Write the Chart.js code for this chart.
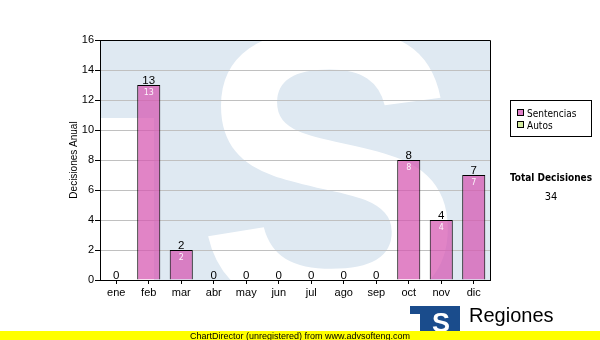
<!DOCTYPE html>
<html>
<head>
<meta charset="utf-8">
<script src="https://cdn.jsdelivr.net/npm/chart.js@4.4.1/dist/chart.umd.min.js"></script>
<style>
  html, body { margin: 0; padding: 0; background: #ffffff; }
  #wrap { width: 600px; height: 340px; position: relative; }
</style>
</head>
<body>
<div id="wrap"><canvas id="c" width="600" height="340"></canvas></div>
<script>
const categories = ['ene', 'feb', 'mar', 'abr', 'may', 'jun', 'jul', 'ago', 'sep', 'oct', 'nov', 'dic'];
const sentencias = [0, 13, 2, 0, 0, 0, 0, 0, 0, 8, 4, 7];
const autos = [0, 0, 0, 0, 0, 0, 0, 0, 0, 0, 0, 0];
const yMin = 0;
const yMax = 16;
const yStep = 2;
const seriesNames = ['Sentencias', 'Autos'];
const totalLabel = 'Total Decisiones';
const totalValue = sentencias.reduce((a, b) => a + b, 0) + autos.reduce((a, b) => a + b, 0);
const yTitle = 'Decisiones Anual';
const bannerText = 'ChartDirector (unregistered) from www.advsofteng.com';
const logoText = 'Regiones';

const pinkFill = 'rgba(214, 84, 176, 0.72)';
const pinkLegend = '#e080c8';
const greenLegend = '#d4eca0';

const decorPlugin = {
  id: 'decor',
  beforeDraw(chart) {
    const ctx = chart.ctx;
    const a = chart.chartArea;
    ctx.save();
    ctx.fillStyle = '#ffffff';
    ctx.fillRect(0, 0, chart.width, chart.height);
    // watermark in plot area
    ctx.beginPath();
    ctx.rect(a.left, a.top, a.right - a.left, a.bottom - a.top);
    ctx.clip();
    ctx.fillStyle = '#dfe9f2';
    ctx.fillRect(a.left, a.top, a.right - a.left, a.bottom - a.top);
    ctx.fillStyle = '#ffffff';
    ctx.fillRect(a.left, 118, 54, a.bottom - 118);
    ctx.font = 'bold 400px "Liberation Sans"';
    ctx.textAlign = 'center';
    ctx.textBaseline = 'alphabetic';
    ctx.fillText('S', 330, 308);
    ctx.restore();
  },
  afterDraw(chart) {
    const ctx = chart.ctx;
    const a = chart.chartArea;
    const xs = chart.scales.x;
    const ys = chart.scales.y;
    ctx.save();
    // frame top/right
    ctx.strokeStyle = '#000000';
    ctx.lineWidth = 1;
    ctx.beginPath();
    ctx.moveTo(a.left, a.top + 0.5);
    ctx.lineTo(a.right + 0.5, a.top + 0.5);
    ctx.lineTo(a.right + 0.5, a.bottom);
    ctx.stroke();

    // value labels
    for (let i = 0; i < categories.length; i++) {
      const x = xs.getPixelForValue(i);
      const tot = sentencias[i] + autos[i];
      const yTop = ys.getPixelForValue(tot);
      ctx.fillStyle = '#000000';
      ctx.font = '11.5px "Liberation Sans"';
      ctx.textAlign = 'center';
      ctx.textBaseline = 'alphabetic';
      ctx.fillText(String(tot), x, yTop - 1.5);
      if (sentencias[i] > 0) {
        ctx.fillStyle = 'rgba(255,255,255,0.9)';
        ctx.font = '8px "DejaVu Sans"';
        ctx.textBaseline = 'top';
        ctx.fillText(String(sentencias[i]), x, ys.getPixelForValue(sentencias[i]) + 3.5);
      }
    }

    // y title
    ctx.save();
    ctx.translate(77, (a.top + a.bottom) / 2);
    ctx.rotate(-Math.PI / 2);
    ctx.fillStyle = '#000000';
    ctx.font = '10px "Liberation Sans"';
    ctx.textAlign = 'center';
    ctx.textBaseline = 'alphabetic';
    ctx.fillText(yTitle, 0, 0);
    ctx.restore();

    // legend
    ctx.fillStyle = '#ffffff';
    ctx.fillRect(510.5, 100.5, 81, 36);
    ctx.strokeStyle = '#000000';
    ctx.strokeRect(510.5, 100.5, 81, 36);
    const legendColors = [pinkLegend, greenLegend];
    ctx.font = '10px "DejaVu Sans Condensed", "DejaVu Sans"';
    ctx.textAlign = 'left';
    ctx.textBaseline = 'alphabetic';
    for (let k = 0; k < seriesNames.length; k++) {
      const yy = 109.5 + k * 12;
      ctx.fillStyle = legendColors[k];
      ctx.fillRect(517.5, yy, 6, 6);
      ctx.strokeStyle = '#000000';
      ctx.strokeRect(517.5, yy, 6, 6);
      ctx.fillStyle = '#000000';
      ctx.fillText(seriesNames[k], 527, 117 + k * 12);
    }

    // total
    ctx.textAlign = 'center';
    ctx.font = 'bold 10px "DejaVu Sans Condensed", "DejaVu Sans"';
    ctx.fillStyle = '#000000';
    ctx.fillText(totalLabel, 551, 181);
    ctx.font = '11px "DejaVu Sans Condensed", "DejaVu Sans"';
    ctx.fillText(String(totalValue), 551, 199.5);

    // logo
    ctx.fillStyle = '#1a4c8c';
    ctx.fillRect(410, 306, 50, 26);
    ctx.fillStyle = '#ffffff';
    ctx.fillRect(410, 314, 10, 18);
    ctx.font = 'bold 27px "Liberation Sans"';
    ctx.textAlign = 'center';
    ctx.fillText('S', 441, 332);
    ctx.fillStyle = '#000000';
    ctx.font = '20px "Liberation Sans"';
    ctx.textAlign = 'left';
    ctx.fillText(logoText, 469, 322);

    // banner
    ctx.fillStyle = '#ffff00';
    ctx.fillRect(0, 331, chart.width, 9);
    ctx.fillStyle = '#000000';
    ctx.font = '9px "Liberation Sans"';
    ctx.textAlign = 'center';
    ctx.textBaseline = 'alphabetic';
    ctx.fillText(bannerText, 300, 339);
    ctx.restore();
  }
};

new Chart(document.getElementById('c'), {
  type: 'bar',
  data: {
    labels: categories,
    datasets: [
      {
        label: seriesNames[0],
        data: sentencias,
        backgroundColor: pinkFill,
        borderColor: '#000000',
        borderWidth: (c) => (c.raw > 0 ? 1 : 0),
        borderSkipped: 'start',
        barPercentage: 0.71,
        categoryPercentage: 1.0
      },
      {
        label: seriesNames[1],
        data: autos,
        backgroundColor: greenLegend,
        borderColor: '#000000',
        borderWidth: (c) => (c.raw > 0 ? 1 : 0),
        barPercentage: 0.71,
        categoryPercentage: 1.0
      }
    ]
  },
  options: {
    responsive: false,
    animation: false,
    devicePixelRatio: 1,
    layout: { padding: { top: 40, right: 110, left: 0, bottom: 0 } },
    plugins: {
      legend: { display: false },
      tooltip: { enabled: false },
      title: { display: false }
    },
    scales: {
      x: {
        stacked: true,
        afterFit: (s) => { s.height = 60; },
        grid: {
          display: true,
          drawOnChartArea: false,
          drawTicks: true,
          tickLength: 4,
          tickColor: '#000000',
          offset: false
        },
        border: { display: true, color: '#000000', width: 1 },
        ticks: {
          color: '#000000',
          font: { family: 'Liberation Sans', size: 11 },
          padding: 2,
          maxRotation: 0,
          autoSkip: false
        }
      },
      y: {
        stacked: true,
        min: yMin,
        max: yMax,
        afterFit: (s) => { s.width = 100; },
        grid: {
          color: '#c0c0c0',
          lineWidth: 1,
          drawTicks: true,
          tickLength: 5,
          tickColor: '#000000'
        },
        border: { display: true, color: '#000000', width: 1 },
        ticks: {
          stepSize: yStep,
          color: '#000000',
          font: { family: 'Liberation Sans', size: 11 },
          padding: 1
        }
      }
    }
  },
  plugins: [decorPlugin]
});
</script>
</body>
</html>
